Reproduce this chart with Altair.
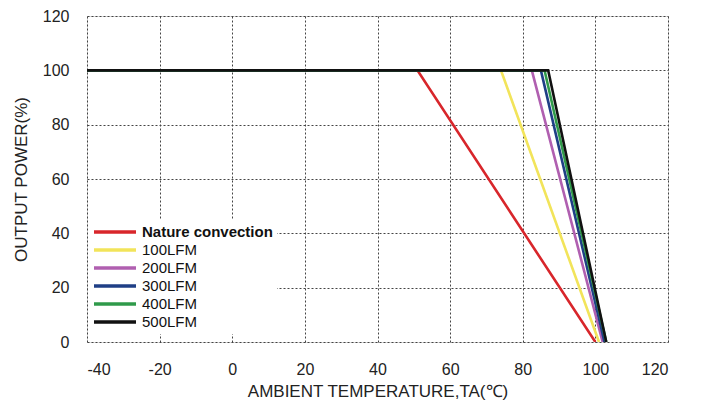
import altair as alt
import pandas as pd

series = ["Nature convection", "100LFM", "200LFM", "300LFM", "400LFM", "500LFM"]
colors = ["#d8262b", "#f2e45a", "#b05fb0", "#1f3f86", "#2f9a4a", "#111111"]
start_temp = [-40, -40, -40, -40, -40, -40]
knee_temp = [51, 74, 82.5, 85, 86, 87]
end_temp = [100, 101, 102, 102.5, 103, 103]
full_power = [100, 100, 100, 100, 100, 100]
zero_power = [0, 0, 0, 0, 0, 0]

rows = []
for i, s in enumerate(series):
    rows.append({"series": s, "order": 0, "temp": start_temp[i], "power": full_power[i]})
    rows.append({"series": s, "order": 1, "temp": knee_temp[i], "power": full_power[i]})
    rows.append({"series": s, "order": 2, "temp": end_temp[i], "power": zero_power[i]})
df = pd.DataFrame(rows)

font = "Liberation Sans"

chart = alt.Chart(df).mark_line(strokeWidth=2.6, clip=True).encode(
    x=alt.X("temp:Q",
            scale=alt.Scale(domain=[-40, 120], nice=False),
            axis=alt.Axis(values=[-40, -20, 0, 20, 40, 60, 80, 100, 120],
                          labelExpr="toString(datum.value)",
                          title="AMBIENT TEMPERATURE,TA(℃)",
                          ticks=False, labelPadding=19, titlePadding=6,
                          labelFontSize=16, titleFontSize=17,
                          titleFontWeight="normal",
                          labelColor="#222", titleColor="#222",
                          labelFont=font, titleFont=font,
                          gridColor="#444", gridDash=[2, 2], gridWidth=1,
                          domain=False)),
    y=alt.Y("power:Q",
            scale=alt.Scale(domain=[0, 120], nice=False),
            axis=alt.Axis(values=[0, 20, 40, 60, 80, 100, 120],
                          title="OUTPUT POWER(%)",
                          ticks=False, labelPadding=18, titlePadding=12,
                          labelFontSize=16, titleFontSize=17,
                          titleFontWeight="normal",
                          labelColor="#222", titleColor="#222",
                          labelFont=font, titleFont=font,
                          gridColor="#444", gridDash=[2, 2], gridWidth=1,
                          domain=False)),
    color=alt.Color("series:N",
                    scale=alt.Scale(domain=series, range=colors),
                    legend=alt.Legend(title=None, orient="none",
                                      legendX=1, legendY=204,
                                      symbolType="M-1,0H6",
                                      symbolSize=144,
                                      symbolStrokeWidth=3.5,
                                      labelFontSize=15,
                                      labelFont=font,
                                      labelColor="#111",
                                      labelFontWeight={"expr": "datum.value == 'Nature convection' ? 'bold' : 'normal'"},
                                      rowPadding=2,
                                      labelOffset=34,
                                      padding=4,
                                      fillColor="white")),
    order="order:Q",
).properties(
    width=581, height=326,
    padding={"left": 79, "top": 8, "right": 20, "bottom": 66},
    autosize=alt.AutoSizeParams(type="none"),
).configure_view(
    stroke="#666", strokeWidth=1.6
).configure(background="white")

chart.save("out.html", embed_options={"renderer": "svg", "actions": False})
